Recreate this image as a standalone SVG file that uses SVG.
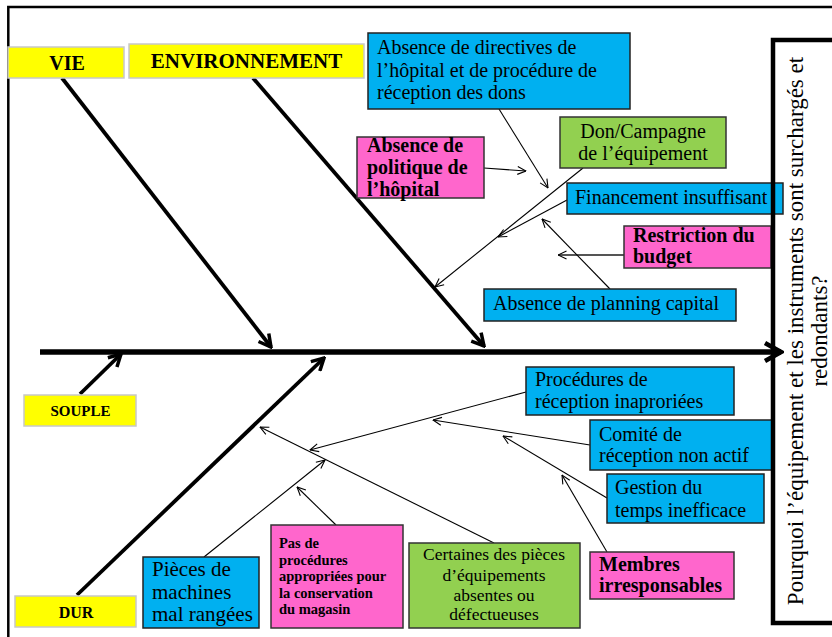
<svg xmlns="http://www.w3.org/2000/svg" width="832" height="637" viewBox="0 0 832 637">
<style>
.t{font-family:"Liberation Serif","Times New Roman",serif;fill:#000}
.b{font-weight:bold}
.y{fill:#FFFF00;stroke:#c8c8c8;stroke-width:1.5}
.bl{fill:#00B0F0;stroke:#222;stroke-width:1.5}
.pk{fill:#FF66CC;stroke:#333;stroke-width:1.5}
.gr{fill:#92D050;stroke:#333;stroke-width:1.5}
.thin{fill:none;stroke:#000;stroke-width:1.1;marker-end:url(#ah)}
.bone{fill:none;stroke:#000;stroke-width:3.8;marker-end:url(#bh)}
</style>
<defs>
<marker id="ah" viewBox="0 0 10 10" refX="9.5" refY="5" markerWidth="10" markerHeight="10" markerUnits="userSpaceOnUse" orient="auto">
<path d="M1,1 L9.5,5 L1,9" fill="none" stroke="#000" stroke-width="1.1"/>
</marker>
<marker id="bh" viewBox="0 0 16 16" refX="14" refY="8" markerWidth="16" markerHeight="16" markerUnits="userSpaceOnUse" orient="auto">
<path d="M2,1.5 L14,8 L2,14.5" fill="none" stroke="#000" stroke-width="3.5"/>
</marker>
<marker id="sh" viewBox="0 0 22 22" refX="19" refY="11" markerWidth="22" markerHeight="22" markerUnits="userSpaceOnUse" orient="auto">
<path d="M3,2 L19,11 L3,20" fill="none" stroke="#000" stroke-width="4.5"/>
</marker>
</defs>
<rect width="832" height="637" fill="#fff"/>
<path d="M8.3,637 V7 H832" fill="none" stroke="#000" stroke-width="2.5"/>

<g id="connectors">
<path d="M40,352 H781" fill="none" stroke="#000" stroke-width="5.5" marker-end="url(#sh)"/>
<path class="bone" d="M62,78 L271,347"/>
<path class="bone" d="M253,78 L484,346"/>
<path class="bone" d="M80,394 L121,354"/>
<path class="bone" d="M77,595 L324,358"/>
<path class="thin" d="M484,168 L526,171"/>
<path class="thin" d="M499,109 L548,188"/>
<path class="thin" d="M583,168 L435,287"/>
<path class="thin" d="M567,200 L498,237"/>
<path d="M624,255 H558" fill="none" stroke="#555" stroke-width="2" marker-end="url(#ah)"/>
<path class="thin" d="M610,289 L542,219"/>
<path class="thin" d="M494,543 L260,427"/>
<path class="thin" d="M526,392 L310,450"/>
<path class="thin" d="M204,557 L325,460"/>
<path class="thin" d="M336,525 L297,487"/>
<path class="thin" d="M590,445 L433,420"/>
<path class="thin" d="M607,498 L503,436"/>
<path class="thin" d="M607,552 L562,475"/>
</g>

<g id="n-vie"><rect class="y" x="8" y="47" width="116" height="31"/><text class="t b" x="67" y="70" font-size="20" text-anchor="middle">VIE</text></g>
<g id="n-env"><rect class="y" x="129" y="44" width="235" height="34"/><text class="t b" x="246.5" y="68" font-size="21" text-anchor="middle">ENVIRONNEMENT</text></g>
<g id="n-souple"><rect class="y" x="24" y="395" width="112" height="31"/><text class="t b" x="80.5" y="416" font-size="15" text-anchor="middle">SOUPLE</text></g>
<g id="n-dur"><rect class="y" x="15" y="596" width="121" height="31"/><text class="t b" x="76" y="618" font-size="16" text-anchor="middle">DUR</text></g>

<g id="n-directives"><rect class="bl" x="368" y="33" width="262" height="76"/>
<text class="t" font-size="20"><tspan x="377" y="54">Absence de directives de</tspan><tspan x="377" y="77">l’hôpital et de procédure de</tspan><tspan x="377" y="99">réception des dons</tspan></text></g>
<g id="n-politique"><rect class="pk" x="357" y="137" width="127" height="61"/>
<text class="t b" font-size="20"><tspan x="367" y="152">Absence de</tspan><tspan x="367" y="174">politique de</tspan><tspan x="367" y="196">l’hôpital</tspan></text></g>
<g id="n-don"><rect class="gr" x="560" y="117" width="166" height="51"/>
<text class="t" font-size="20" text-anchor="middle"><tspan x="643" y="138">Don/Campagne</tspan><tspan x="643" y="160">de l’équipement</tspan></text></g>
<g id="n-financement"><rect class="bl" x="567" y="183" width="216" height="31"/>
<text class="t" x="575" y="204" font-size="20">Financement insuffisant</text></g>
<g id="n-restriction"><rect class="pk" x="624" y="226" width="147" height="42"/>
<text class="t b" font-size="20"><tspan x="633" y="242">Restriction du</tspan><tspan x="633" y="263">budget</tspan></text></g>
<g id="n-planning"><rect class="bl" x="484" y="289" width="252" height="32"/>
<text class="t" x="493" y="310" font-size="20">Absence de planning capital</text></g>

<g id="n-procedures"><rect class="bl" x="526" y="367" width="208" height="48"/>
<text class="t" font-size="20"><tspan x="535" y="386">Procédures de</tspan><tspan x="535" y="408">réception inaproriées</tspan></text></g>
<g id="n-comite"><rect class="bl" x="590" y="420" width="183" height="50"/>
<text class="t" font-size="20"><tspan x="599" y="441">Comité de</tspan><tspan x="599" y="462">réception non actif</tspan></text></g>
<g id="n-gestion"><rect class="bl" x="607" y="474" width="157" height="49"/>
<text class="t" font-size="20"><tspan x="615" y="494">Gestion du</tspan><tspan x="615" y="517">temps inefficace</tspan></text></g>
<g id="n-membres"><rect class="pk" x="590" y="552" width="144" height="47"/>
<text class="t b" font-size="20"><tspan x="599" y="571">Membres</tspan><tspan x="599" y="592">irresponsables</tspan></text></g>
<g id="n-certaines"><rect class="gr" x="409" y="543" width="171" height="85"/>
<text class="t" font-size="17.5" text-anchor="middle"><tspan x="494" y="560">Certaines des pièces</tspan><tspan x="494" y="581">d’équipements</tspan><tspan x="494" y="601">absentes ou</tspan><tspan x="494" y="620">défectueuses</tspan></text></g>
<g id="n-pieces"><rect class="bl" x="143" y="557" width="116" height="71"/>
<text class="t" font-size="21"><tspan x="152" y="576">Pièces de</tspan><tspan x="152" y="599">machines</tspan><tspan x="152" y="621">mal rangées</tspan></text></g>
<g id="n-pasde"><rect class="pk" x="271" y="525" width="132" height="103"/>
<text class="t b" font-size="14.5"><tspan x="279" y="548">Pas de</tspan><tspan x="279" y="564.5">procédures</tspan><tspan x="279" y="581">appropriées pour</tspan><tspan x="279" y="597.5">la conservation</tspan><tspan x="279" y="614">du magasin</tspan></text></g>

<g id="n-question"><rect x="773" y="40" width="80" height="583" fill="none" stroke="#000" stroke-width="4.5"/>
<text class="t" font-size="23" text-anchor="middle" transform="translate(803,331) rotate(-90)"><tspan x="0" y="0">Pourquoi l’équipement et les instruments sont surchargés et</tspan><tspan x="0" y="24">redondants?</tspan></text></g>
</svg>
